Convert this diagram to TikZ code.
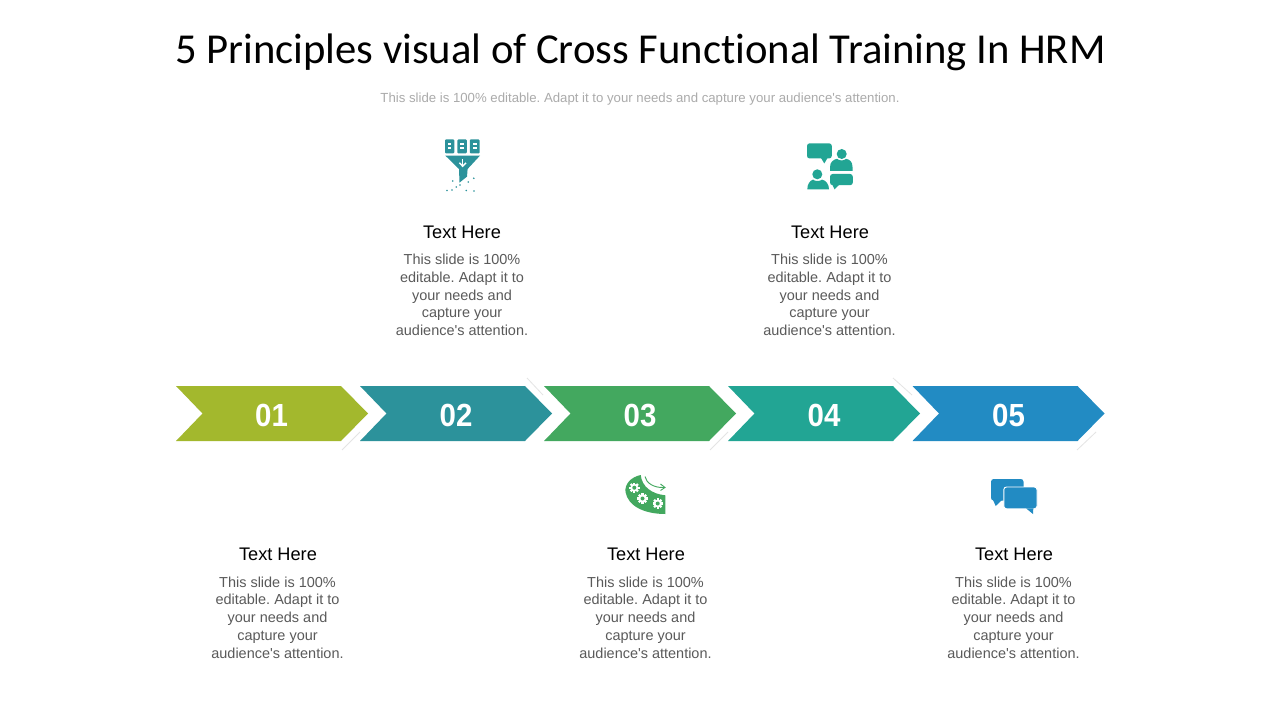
\documentclass[tikz,border=0pt]{standalone}
\usepackage{graphicx}
\usepackage{fontspec}
\setmainfont{Liberation Sans}
\newfontfamily\titlefont[Ligatures=NoCommon]{Carlito}
\definecolor{cOne}{HTML}{A3B82D}
\definecolor{cTwo}{HTML}{2C929B}
\definecolor{cThree}{HTML}{43A85F}
\definecolor{cFour}{HTML}{22A594}
\definecolor{cFive}{HTML}{228BC3}
\definecolor{bodygray}{HTML}{5A5A5A}
\definecolor{subgray}{HTML}{ABABAB}
\definecolor{faintline}{HTML}{E4E4E4}
\newcommand{\numtext}[1]{\scalebox{0.92}[1]{#1}}
\newcommand{\blurb}{This slide is 100\%\\editable. Adapt it to\\your needs and\\capture your\\audience\textquotesingle s attention.}
\tikzset{
  x=0.75pt,y=-0.75pt,
  numlabel/.style={font=\fontsize{24}{28}\selectfont\bfseries,text=white,inner sep=0pt,anchor=base},
  headlabel/.style={font=\fontsize{13.65}{16}\selectfont,text=black,inner sep=0pt,anchor=center},
  bodylabel/.style={font=\fontsize{10.85}{13.35}\selectfont\frenchspacing,text=bodygray,align=center,inner sep=0pt,anchor=center},
  faint/.style={draw=faintline,line width=0.6pt},
  pics/gearmark/.style={code={
    \fill[white] (0,0) circle (3.9);
    \foreach \a in {0,45,...,315}{\fill[white,rotate=\a] (-1.1,-5.2) rectangle (1.1,-3);}
    \fill[cThree] (0,0) circle (2);
  }},
}
\newcommand{\chevronshape}[3]{%
  \fill[#2] (#1,386) -- (#1+165,386) -- (#1+192,#3) -- (#1+165,441) -- (#1,441) -- (#1+26.5,#3) -- cycle;}
\begin{document}
\begin{tikzpicture}
\useasboundingbox (0,0) rectangle (1280,720);
\fill[white] (0,0) rectangle (1280,720);
% title
\node[font=\fontsize{32}{38}\titlefont,text=black,inner sep=0pt,anchor=center] (title) at (640.5,52) {5 Principles visual of Cross Functional Training In HRM};
\node[font=\fontsize{9.9}{12}\selectfont\frenchspacing,text=subgray,inner sep=0pt,anchor=center] (subtitle) at (640,99) {This slide is 100\% editable. Adapt it to your needs and capture your audience\textquotesingle s attention.};
% faint accent lines
\draw[faint] (342,450) -- (360,432);
\draw[faint] (527,378) -- (543,395);
\draw[faint] (710,450) -- (728,432);
\draw[faint] (893,378) -- (912,395);
\draw[faint] (1077,450) -- (1096,432);
% chevrons
\chevronshape{176}{cOne}{413.5}
\chevronshape{360}{cTwo}{413.5}
\chevronshape{544}{cThree}{413.5}
\chevronshape{728}{cFour}{413.5}
\chevronshape{912.5}{cFive}{413.5}
\node[numlabel] (n1) at (271.5,426) {\numtext{01}};
\node[numlabel] (n2) at (456,426) {\numtext{02}};
\node[numlabel] (n3) at (640,426) {\numtext{03}};
\node[numlabel] (n4) at (824,426) {\numtext{04}};
\node[numlabel] (n5) at (1008.5,426) {\numtext{05}};
% top text
\node[headlabel] (h2) at (462,232.5) {Text Here};
\node[bodylabel] (b2) at (462,295) {\blurb};
\node[headlabel] (h4) at (830,232.5) {Text Here};
\node[bodylabel] (b4) at (829.5,295) {\blurb};
% bottom text
\node[headlabel] (h1) at (278,554.5) {Text Here};
\node[bodylabel] (b1) at (277.5,617.5) {\blurb};
\node[headlabel] (h3) at (646,554.5) {Text Here};
\node[bodylabel] (b3) at (645.5,617.5) {\blurb};
\node[headlabel] (h5) at (1014,554.5) {Text Here};
\node[bodylabel] (b5) at (1013.5,617.5) {\blurb};
% funnel icon
\fill[cTwo,rounded corners=0.8pt] (445,139.3) rectangle (454.3,153.5);
\fill[cTwo,rounded corners=0.8pt] (457.4,139.3) rectangle (466.8,153.5);
\fill[cTwo,rounded corners=0.8pt] (469.8,139.3) rectangle (479.6,153.5);
\foreach \cx in {449.6,462.1,474.7}{
  \fill[white] (\cx-1.8,143.4) rectangle (\cx+1.8,144.9);
  \fill[white] (\cx-1.8,147.4) rectangle (\cx+1.8,148.9);
}
\fill[cTwo] (445.3,155.6) -- (480,155.6) -- (467.6,169) -- (467,176.6) -- (459.5,182.6) -- (459,169) -- cycle;
\draw[white,line width=1.1pt] (462.7,159.5) -- (462.7,165.5);
\draw[white,line width=1.1pt] (459.4,162.8) -- (462.7,166.2) -- (466,162.8);
\foreach \px/\py in {452.7/181, 456.3/187, 452/190, 466.3/190.5, 473.8/178.3, 468.3/182, 474/191, 447/190.5, 460/185}{
  \fill[cTwo] (\px,\py) circle (0.9);
}
% people and bubbles icon
\fill[cFour,rounded corners=2pt] (807,143.3) rectangle (831.8,158.5);
\fill[cFour] (821,158) -- (824.3,163.5) -- (827.5,158) -- cycle;
\fill[cFour] (841.7,154) circle (5);
\fill[cFour] (830,171) -- (830,167) .. controls (830,161.5) and (834,159.5) .. (837,158.8) .. controls (839.5,161) and (844,161) .. (846,158.8) .. controls (850,159.5) and (852.5,162) .. (852.5,167) -- (852.5,171) -- cycle;
\fill[cFour,rounded corners=2pt] (830,174) rectangle (852.8,185.2);
\fill[cFour] (832.5,185) -- (834.5,189.3) -- (839,185) -- cycle;
\fill[cFour] (817.3,174.3) circle (5);
\fill[cFour] (807.3,189.4) .. controls (807.3,184) and (810,180.5) .. (813,179.6) .. controls (815,181.5) and (820,181.5) .. (822,179.6) .. controls (826,180.5) and (829,184) .. (829,189.4) -- cycle;
% head and gears icon
\fill[cThree] (640.7,475) .. controls (642,487) and (652,494) .. (665.3,495.3) -- (665.3,514) .. controls (644,514) and (628,506) .. (625.5,492) .. controls (624.5,484) and (631,477) .. (640.7,475) -- cycle;
\draw[cThree,line width=0.7pt] (645,476.5) .. controls (646,483) and (654,488) .. (664,487.5);
\draw[cThree,line width=0.7pt] (660.5,484) -- (665,487.5) -- (660.5,490.5);
\pic at (634.3,487.7) {gearmark};
\pic at (642.5,498.5) {gearmark};
\pic at (657.7,503.5) {gearmark};
% speech bubbles icon
\fill[cFive,rounded corners=2pt] (991,479) rectangle (1023.5,500.5);
\fill[cFive] (993,500) -- (995.7,506) -- (1002,500) -- cycle;
\fill[cFive,draw=white,line width=0.7pt,rounded corners=2pt] (1003.8,487) rectangle (1037,508.8);
\fill[cFive] (1026,508.3) -- (1033,514) -- (1033.3,508.3) -- cycle;
\end{tikzpicture}
\end{document}
